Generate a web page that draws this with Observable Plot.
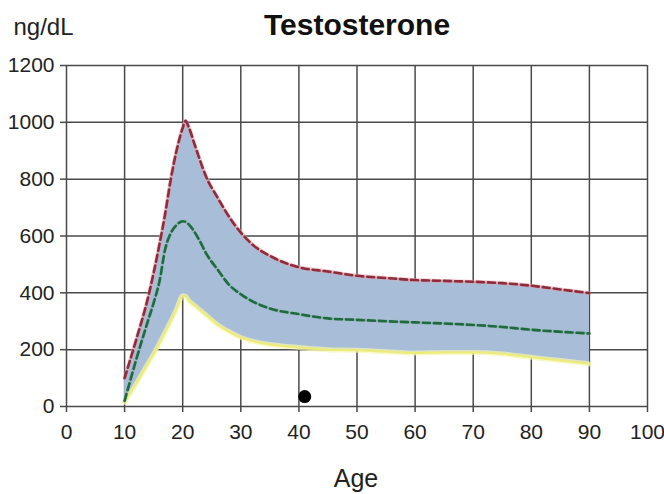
<!DOCTYPE html>
<html>
<head>
<meta charset="utf-8">
<script src="https://cdn.jsdelivr.net/npm/d3@7"></script>
<script src="https://cdn.jsdelivr.net/npm/@observablehq/plot@0.6"></script>
<style>
  html, body { margin: 0; padding: 0; background: #fff; }
  #chart svg { display: block; }
</style>
</head>
<body>
<div id="chart"></div>
<script>
// Data
const ages   = [10, 12, 14, 15, 16, 17, 18, 19, 20, 20.5, 21, 22, 23, 24, 26, 28, 30, 32, 35, 40, 45, 50, 55, 60, 65, 70, 75, 80, 85, 90];
const upper  = [100, 235, 380, 470, 570, 680, 805, 905, 980, 1005, 985, 925, 865, 810, 735, 667, 612, 570, 530, 490, 475, 460, 452, 445, 442, 439, 434, 425, 412, 399];
const median = [20, 165, 300, 365, 440, 555, 612, 640, 652, 650, 642, 615, 580, 540, 482, 428, 395, 370, 345, 325, 310, 305, 300, 296, 292, 287, 280, 270, 263, 257];
const lower  = [15, 80, 150, 185, 222, 262, 302, 345, 390, 388, 374, 356, 339, 322, 288, 263, 243, 230, 218, 208, 200, 198, 193, 188, 190, 190, 185, 173, 162, 150];
const pointAge = [41];
const pointValue = [35];
const xTicks = [0, 10, 20, 30, 40, 50, 60, 70, 80, 90, 100];
const yTicks = [0, 200, 400, 600, 800, 1000, 1200];
const titleText = "Testosterone";
const yLabel = "ng/dL";
const xLabel = "Age";

const rows = ages.map((a, i) => ({age: a, upper: upper[i], median: median[i], lower: lower[i]}));
const pts = pointAge.map((a, i) => ({age: a, value: pointValue[i]}));

const gridColor = "#4a4a4a";
const curve = "monotone-x";

const chart = Plot.plot({
  width: 664,
  height: 494,
  marginLeft: 66,
  marginRight: 17,
  marginTop: 65,
  marginBottom: 88,
  x: {domain: [0, 100]},
  y: {domain: [0, 1200]},
  style: {fontFamily: "'Liberation Sans', Arial, sans-serif", fontSize: "21px", color: "#222", background: "#fff"},
  marks: [
    Plot.gridX(xTicks, {stroke: gridColor, strokeOpacity: 1, strokeWidth: 1.5}),
    Plot.gridY(yTicks, {stroke: gridColor, strokeOpacity: 1, strokeWidth: 1.5}),
    Plot.areaY(rows, {x: "age", y1: "lower", y2: "upper", fill: "#a8bdd7", curve}),
    // lower bound (yellow)
    Plot.line(rows, {x: "age", y: "lower", stroke: "#f6f5b0", strokeWidth: 5, strokeOpacity: 0.7, curve}),
    Plot.line(rows, {x: "age", y: "lower", stroke: "#ecec78", strokeWidth: 2, curve}),
    // median (green dashed)
    Plot.line(rows, {x: "age", y: "median", stroke: "#7fb08f", strokeWidth: 3.5, strokeOpacity: 0.35, curve}),
    Plot.line(rows, {x: "age", y: "median", stroke: "#1f6a40", strokeWidth: 2.6, strokeDasharray: "7,4", curve}),
    // upper bound (red dashed)
    Plot.line(rows, {x: "age", y: "upper", stroke: "#e3a2ac", strokeWidth: 4, strokeOpacity: 0.6, curve}),
    Plot.line(rows, {x: "age", y: "upper", stroke: "#8e2c3c", strokeWidth: 2.6, strokeDasharray: "7,4", curve}),
    // patient point
    Plot.dot(pts, {x: "age", y: "value", r: 6.5, fill: "#000", stroke: "none"}),
    Plot.axisY(yTicks, {tickSize: 6, tickPadding: 6, tickFormat: d => String(d), stroke: gridColor, strokeWidth: 1.5, label: null, fontSize: 21}),
    Plot.axisX(xTicks, {tickSize: 6, tickPadding: 12, tickFormat: d => String(d), stroke: gridColor, strokeWidth: 1.5, label: null, fontSize: 21}),
    Plot.text([titleText], {frameAnchor: "top", dy: -31, lineAnchor: "bottom", fontSize: 30, fontWeight: "bold", fill: "#111"}),
    Plot.text([yLabel], {frameAnchor: "top-left", dx: -53, dy: -31, textAnchor: "start", lineAnchor: "bottom", fontSize: 24, fill: "#222"}),
    Plot.text([xLabel], {frameAnchor: "bottom", dx: -1, dy: 80, lineAnchor: "bottom", fontSize: 25, fill: "#222"})
  ]
});
document.getElementById("chart").appendChild(chart);
</script>
</body>
</html>
